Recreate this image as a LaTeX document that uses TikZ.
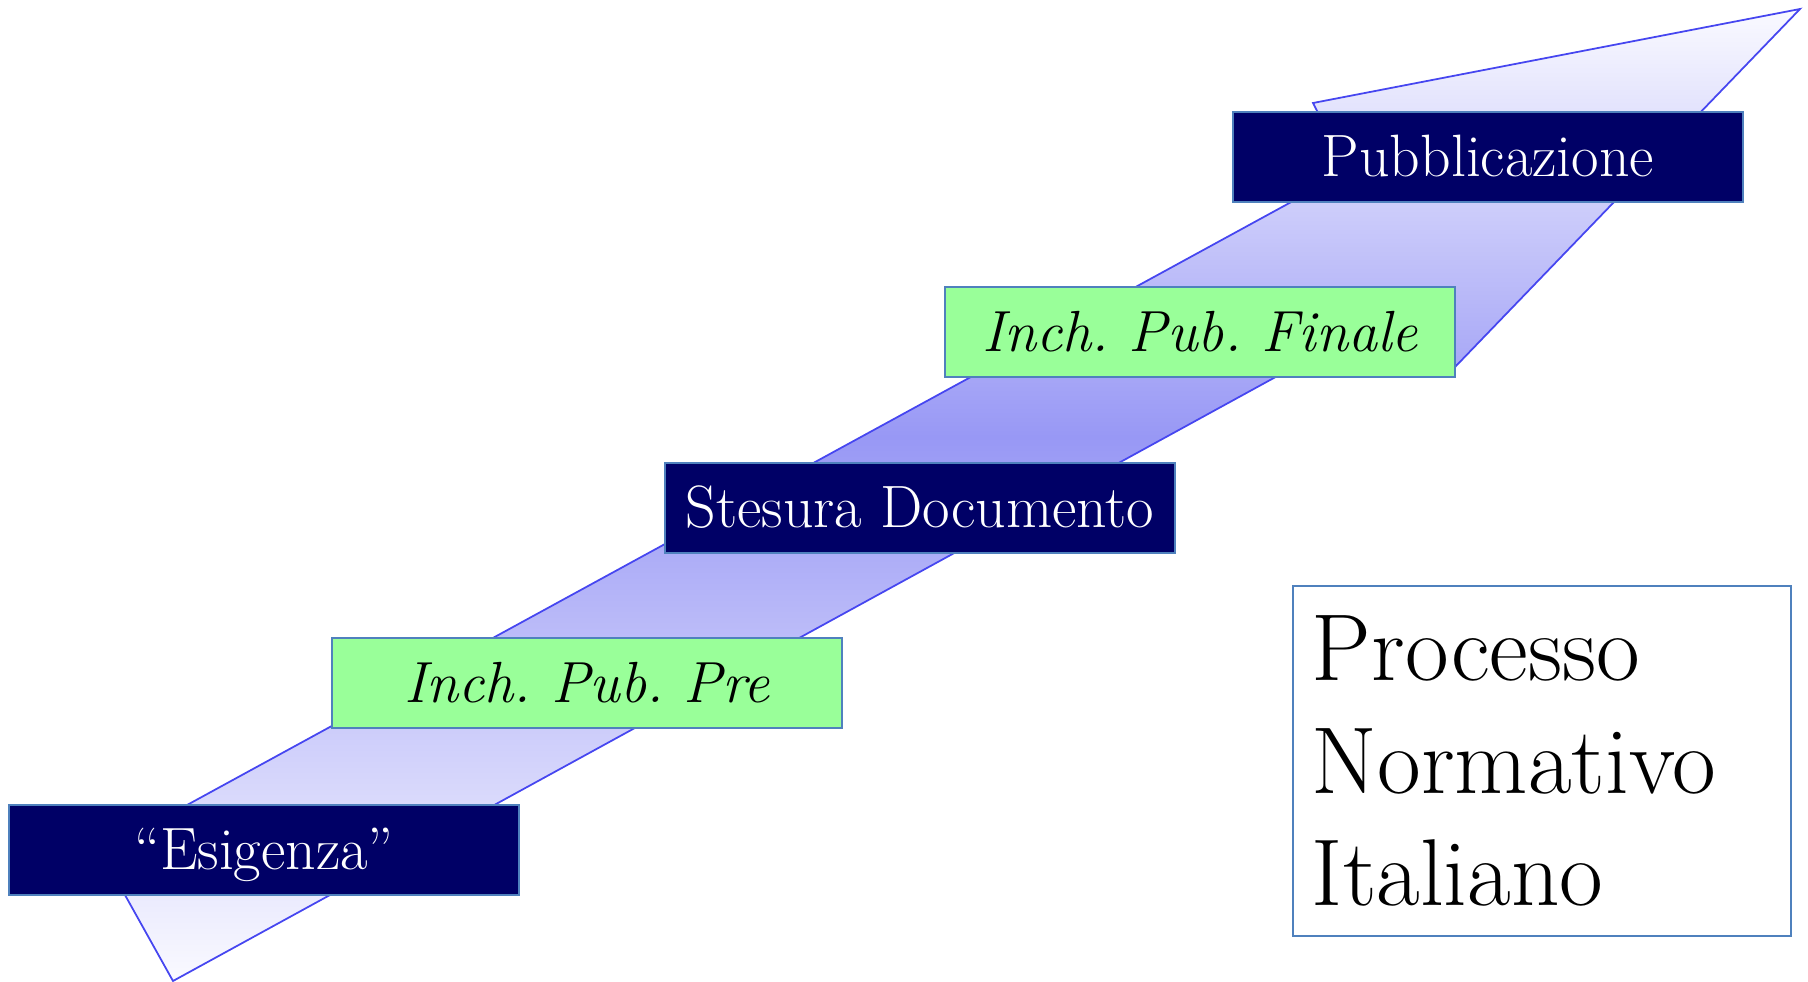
\documentclass[tikz,border=0pt]{standalone}
\usepackage{tikz}
\usetikzlibrary{calc}
\usetikzlibrary{positioning}

\definecolor{stepnavy}{RGB}{0,0,102}
\definecolor{stepgreen}{RGB}{153,255,153}
\definecolor{stepedge}{RGB}{79,129,189}
\definecolor{arrowedge}{RGB}{70,70,240}
\definecolor{arrowlight}{RGB}{250,250,255}
\definecolor{arrowdark}{RGB}{152,152,245}

\pgfdeclareverticalshading{arrowshade}{100bp}{color(0bp)=(arrowlight); color(25bp)=(arrowlight); color(53bp)=(arrowdark); color(75bp)=(arrowlight); color(100bp)=(arrowlight)}

\frenchspacing

\tikzset{
	stepbox/.style={rectangle, draw=stepedge, line width=0.5pt, minimum width=5.09cm, minimum height=0.9cm, inner sep=0pt, text height=11pt, text depth=0pt},
	darkstep/.style={stepbox, fill=stepnavy, text=white, font=\fontsize{17}{20}\selectfont},
	lightstep/.style={stepbox, fill=stepgreen, text=black, font=\fontsize{16.5}{20}\selectfont\itshape},
	titlebox/.style={rectangle, draw=stepedge, line width=0.5pt, minimum width=4.98cm, minimum height=3.5cm, text width=4.6cm, align=left, inner xsep=0.19cm, inner ysep=0pt, font=\fontsize{27}{31.9}\selectfont}
}

\begin{document}
\begin{tikzpicture}[x=0.01cm, y=-0.01cm]
		\useasboundingbox (0,0) rectangle (1808,982);

		% the big arrow
		\coordinate (T1) at (101,852);
		\coordinate (T2) at (173,981);
		\coordinate (H1) at (1418,299);
		\coordinate (H2) at (1456,366);
		\coordinate (H3) at (1800,9);
		\coordinate (H4) at (1313,103);
		\coordinate (H5) at (1348,171);

		\shadedraw[draw=arrowedge, line width=0.5pt, shading=arrowshade] (T1) -- (T2) -- (H1) -- (H2) -- (H3) -- (H4) -- (H5) -- cycle;

		% the steps
		\node[darkstep] (esig) at (264,850) {“Esigenza”};
		\node[lightstep] (pre) at (587,683) {Inch. Pub. Pre};
		\node[darkstep] (stesura) at (920,508) {Stesura Documento};
		\node[lightstep] (finale) at (1200,332) {Inch. Pub. Finale};
		\node[darkstep] (pubbl) at (1488,157) {Pubblicazione};

		\node[titlebox] (title) at (1542,761) {Processo\\Normativo\\Italiano};
\end{tikzpicture}
\end{document}
